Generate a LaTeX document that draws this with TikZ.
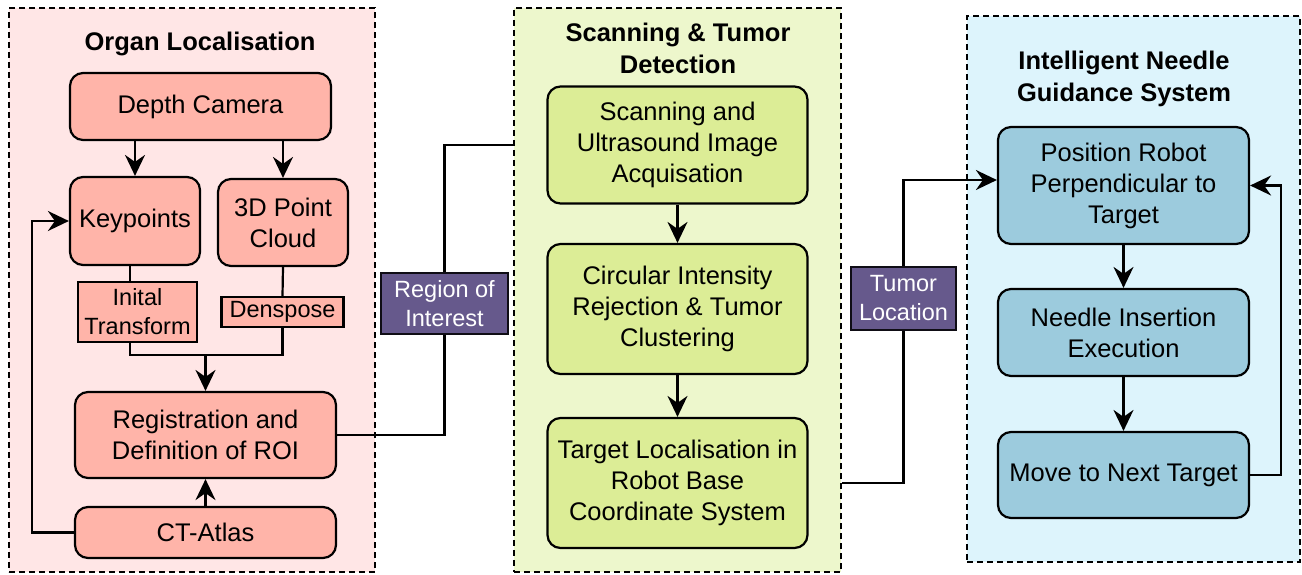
\documentclass[tikz,border=0pt]{standalone}
\usepackage{fontspec}
\setmainfont{Liberation Sans}
\usetikzlibrary{arrows.meta,calc}
\definecolor{pinkbg}{HTML}{FFE6E6}
\definecolor{pinknode}{HTML}{FFB4A9}
\definecolor{greenbg}{HTML}{EDF7CC}
\definecolor{greennode}{HTML}{DCED96}
\definecolor{bluebg}{HTML}{DDF4FC}
\definecolor{bluenode}{HTML}{9CCBDD}
\definecolor{purplelab}{HTML}{66598C}
\tikzset{
  panel/.style={draw=black, line width=1.8pt, dash pattern=on 6pt off 4pt, inner sep=0pt},
  box/.style={draw=black, line width=2.2pt, rounded corners=13pt, align=center, inner sep=2pt,
    font=\fontsize{25.5}{31}\selectfont},
  sqbox/.style={draw=black, line width=2.2pt, align=center, inner sep=1pt, fill=pinknode,
    font=\fontsize{23.5}{29}\selectfont},
  lab/.style={draw=black!85!purplelab, line width=2.2pt, align=center, inner sep=1pt, fill=purplelab,
    text=white, font=\fontsize{23.5}{29}\selectfont},
  ttl/.style={align=center, font=\fontsize{25.5}{32}\selectfont\bfseries},
  conn/.style={draw=black, line width=2.2pt},
  arr/.style={conn, -{Stealth[length=21pt,width=20pt,inset=7pt]}},
}
\begin{document}
\begin{tikzpicture}[x=1pt,y=-1pt]
\useasboundingbox (0,0) rectangle (1302,574);
% panels
\node[panel, fill=pinkbg, minimum width=366pt, minimum height=564pt] (Lpanel) at (192,290) {};
\node[panel, fill=greenbg, minimum width=327pt, minimum height=564pt] (Mpanel) at (677.5,290) {};
\node[panel, fill=bluebg, minimum width=333pt, minimum height=546pt] (Rpanel) at (1133.5,289) {};
% titles
\node[ttl] (Ltitle) at (200,44) {Organ Localisation};
\node[ttl] (Mtitle) at (678,48) {Scanning \& Tumor\\Detection};
\node[ttl] (Rtitle) at (1124,79) {Intelligent Needle\\Guidance System};
% left nodes
\node[box, fill=pinknode, minimum width=261pt, minimum height=67pt] (Depth) at (200.5,106.5) {Depth Camera};
\node[box, fill=pinknode, minimum width=130pt, minimum height=88pt] (Key) at (135,221) {Keypoints};
\node[box, fill=pinknode, minimum width=130pt, minimum height=87pt] (Cloud) at (283,222.5) {3D Point\\Cloud};
\node[sqbox, minimum width=119pt, minimum height=60pt] (Init) at (137.5,312) {Inital\\Transform};
\node[sqbox, minimum width=122pt, minimum height=30pt] (Dens) at (282.5,312) {Denspose};
\node[box, fill=pinknode, minimum width=261pt, minimum height=86pt] (Reg) at (205.5,435) {Registration and\\Definition of ROI};
\node[box, fill=pinknode, minimum width=261pt, minimum height=51pt] (CT) at (205.5,532.5) {CT-Atlas};
% middle nodes
\node[box, fill=greennode, minimum width=260pt, minimum height=117pt] (Scan) at (677.5,145) {Scanning and\\Ultrasound Image\\Acquisation};
\node[box, fill=greennode, minimum width=260pt, minimum height=130pt] (Circ) at (677.5,309) {Circular Intensity\\Rejection \& Tumor\\Clustering};
\node[box, fill=greennode, minimum width=260pt, minimum height=130pt] (Targ) at (677.5,483) {Target Localisation in\\Robot Base\\Coordinate System};
% right nodes
\node[box, fill=bluenode, minimum width=251pt, minimum height=117pt] (Pos) at (1123.5,185.5) {Position Robot\\Perpendicular to\\Target};
\node[box, fill=bluenode, minimum width=251pt, minimum height=87pt] (Need) at (1123.5,332.5) {Needle Insertion\\Execution};
\node[box, fill=bluenode, minimum width=251pt, minimum height=86pt] (Move) at (1123.5,475) {Move to Next Target};
% labels
\node[lab, minimum width=127pt, minimum height=61pt] (ROI) at (444.5,303.5) {Region of\\Interest};
\node[lab, minimum width=105pt, minimum height=63pt] (Tum) at (903.5,298.5) {Tumor\\Location};
% helper coordinates
\coordinate (kx) at (130,0);
\coordinate (jn) at (205.5,355);
% left connectors
\draw[arr] (Key.north |- Depth.south) -- (Key.north);
\draw[arr] (Cloud.north |- Depth.south) -- (Cloud.north);
\draw[conn] (Key.south -| kx) -- (Init.north -| kx);
\draw[conn] (Cloud.south) -- (Dens.north);
\draw[conn] (Init.south -| kx) |- (jn) -| (Dens.south);
\draw[arr] (jn) -- (Reg.north);
\draw[arr] (CT.north) -- (Reg.south);
\draw[arr] (CT.west) -- ++(-42,0) |- (Key.west);
% ROI connector
\draw[conn] (Reg.east) -| (ROI.south);
\draw[conn] (ROI.north) |- (Scan.west -| Mpanel.west);
% middle connectors
\draw[arr] (Scan.south) -- (Circ.north);
\draw[arr] (Circ.south) -- (Targ.north);
% tumor connector
\draw[conn] (Mpanel.east |- Targ.east) -| (Tum.south);
\draw[arr] (Tum.north) |- ([yshift=5.5pt]Pos.west);
% right connectors
\draw[arr] (Pos.south) -- (Need.north);
\draw[arr] (Need.south) -- (Move.north);
\draw[arr] (Move.east) -- ++(31,0) |- (Pos.east);
\end{tikzpicture}
\end{document}
